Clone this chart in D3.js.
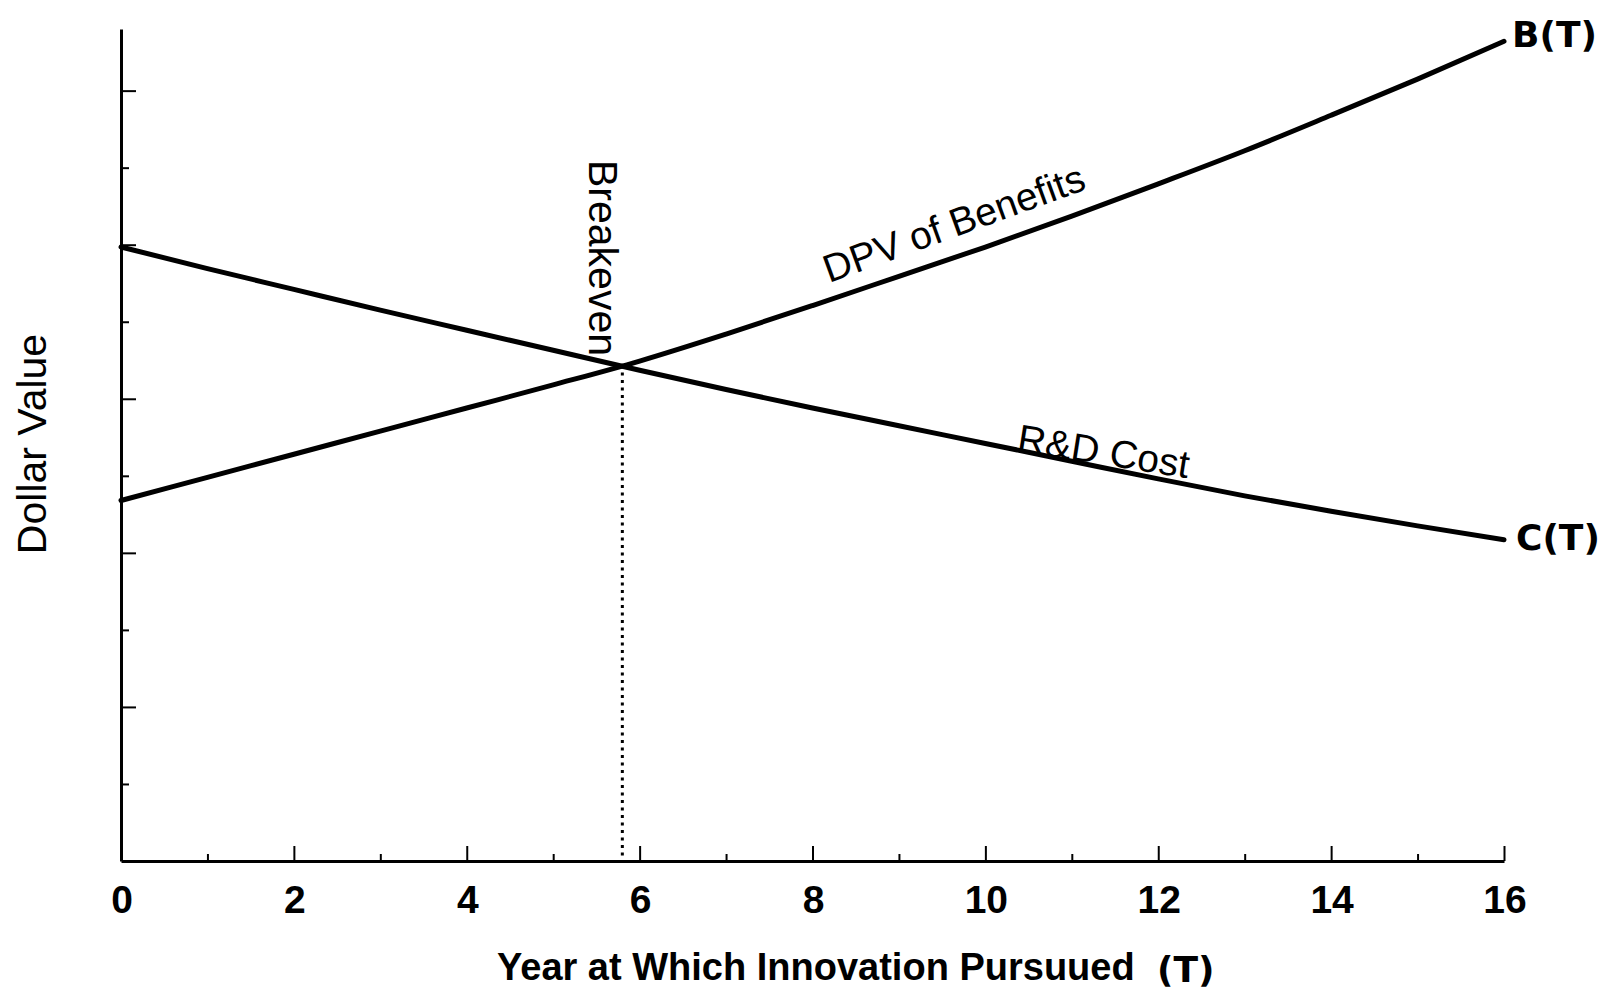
<!DOCTYPE html>
<html>
<head>
<meta charset="utf-8">
<script src="https://cdn.jsdelivr.net/npm/d3@7"></script>
<style>
  body { margin: 0; background: #fff; }
  text { font-family: "Liberation Sans", Arial, Helvetica, sans-serif; fill: #000; }
  .hand { font-family: "DejaVu Sans", sans-serif; font-weight: bold; }
</style>
</head>
<body>
<svg id="chart" width="1614" height="995"></svg>
<script>
// years (T) and the two curves
const years = [0, 1, 2, 3, 4, 5, 6, 7, 8, 9, 10, 11, 12, 13, 14, 15, 16];
const benefits = [4.68, 4.98, 5.28, 5.58, 5.88, 6.18, 6.49, 6.84, 7.21, 7.59, 7.97, 8.37, 8.79, 9.22, 9.68, 10.15, 10.64];
const costs = [7.97, 7.69, 7.42, 7.15, 6.89, 6.63, 6.37, 6.12, 5.88, 5.65, 5.42, 5.19, 4.96, 4.74, 4.54, 4.35, 4.17];
const xTickLabels = [0, 2, 4, 6, 8, 10, 12, 14, 16];
const breakevenYear = 5.8;
const breakevenValue = 6.42;

const svg = d3.select('#chart');

const x = d3.scaleLinear().domain([0, 16]).range([121, 1504]);
const y = d3.scaleLinear().domain([0, 10.8]).range([861, 29]);

// axes: plain lines, ticks pointing inwards
const xAxis = svg.append('g').attr('transform', `translate(0,${y(0)})`)
  .call(d3.axisTop(x).tickValues(d3.range(0, 17)).tickFormat('').tickSizeOuter(0)
    .tickSize(0));
xAxis.select('.domain').attr('stroke', '#000').attr('stroke-width', 3);
xAxis.selectAll('.tick line')
  .attr('y2', d => d % 2 === 0 ? -15 : -7)
  .attr('stroke', '#000').attr('stroke-width', 2);

const yAxis = svg.append('g').attr('transform', `translate(${x(0)},0)`)
  .call(d3.axisRight(y).tickValues(d3.range(1, 11)).tickFormat('').tickSizeOuter(0)
    .tickSize(0));
yAxis.select('.domain').attr('stroke', '#000').attr('stroke-width', 3);
yAxis.selectAll('.tick line')
  .attr('x2', d => d % 2 === 0 ? 15 : 8)
  .attr('stroke', '#000').attr('stroke-width', 2);

svg.append('g').selectAll('text')
  .data(xTickLabels)
  .join('text')
    .attr('x', d => x(d) + 1)
    .attr('y', 913)
    .attr('text-anchor', 'middle')
    .attr('font-size', 39)
    .attr('font-weight', 'bold')
    .text(d => d);

// curves
const line = d3.line()
  .x((d, i) => x(years[i]))
  .y(d => y(d))
  .curve(d3.curveMonotoneX);

[benefits, costs].forEach(series => {
  svg.append('path')
    .attr('d', line(series))
    .attr('fill', 'none')
    .attr('stroke', '#000')
    .attr('stroke-width', 5)
    .attr('stroke-linecap', 'round');
});

// breakeven drop line
svg.append('line')
  .attr('x1', x(breakevenYear)).attr('x2', x(breakevenYear))
  .attr('y1', y(breakevenValue) + 6).attr('y2', y(0))
  .attr('stroke', '#000')
  .attr('stroke-width', 3)
  .attr('stroke-dasharray', '3,4.5');

// labels
svg.append('text')
  .attr('transform', 'translate(46,444) rotate(-90)')
  .attr('text-anchor', 'middle')
  .attr('font-size', 41)
  .text('Dollar Value');

svg.append('text')
  .attr('x', 497).attr('y', 980)
  .attr('font-size', 38)
  .attr('font-weight', 'bold')
  .text('Year at Which Innovation Pursuued');

svg.append('text')
  .attr('class', 'hand')
  .attr('x', 1157).attr('y', 982)
  .attr('font-size', 36)
  .text('(T)');

svg.append('text')
  .attr('transform', 'translate(589,160) rotate(90)')
  .attr('font-size', 41)
  .text('Breakeven');

svg.append('text')
  .attr('transform', 'translate(829,283) rotate(-20)')
  .attr('font-size', 39)
  .text('DPV of Benefits');

svg.append('text')
  .attr('transform', 'translate(1016,451) rotate(9)')
  .attr('font-size', 39)
  .text('R&D Cost');

svg.append('text')
  .attr('class', 'hand')
  .attr('x', 1512).attr('y', 47)
  .attr('font-size', 36)
  .text('B(T)');

svg.append('text')
  .attr('class', 'hand')
  .attr('x', 1516).attr('y', 550)
  .attr('font-size', 36)
  .text('C(T)');
</script>
</body>
</html>
